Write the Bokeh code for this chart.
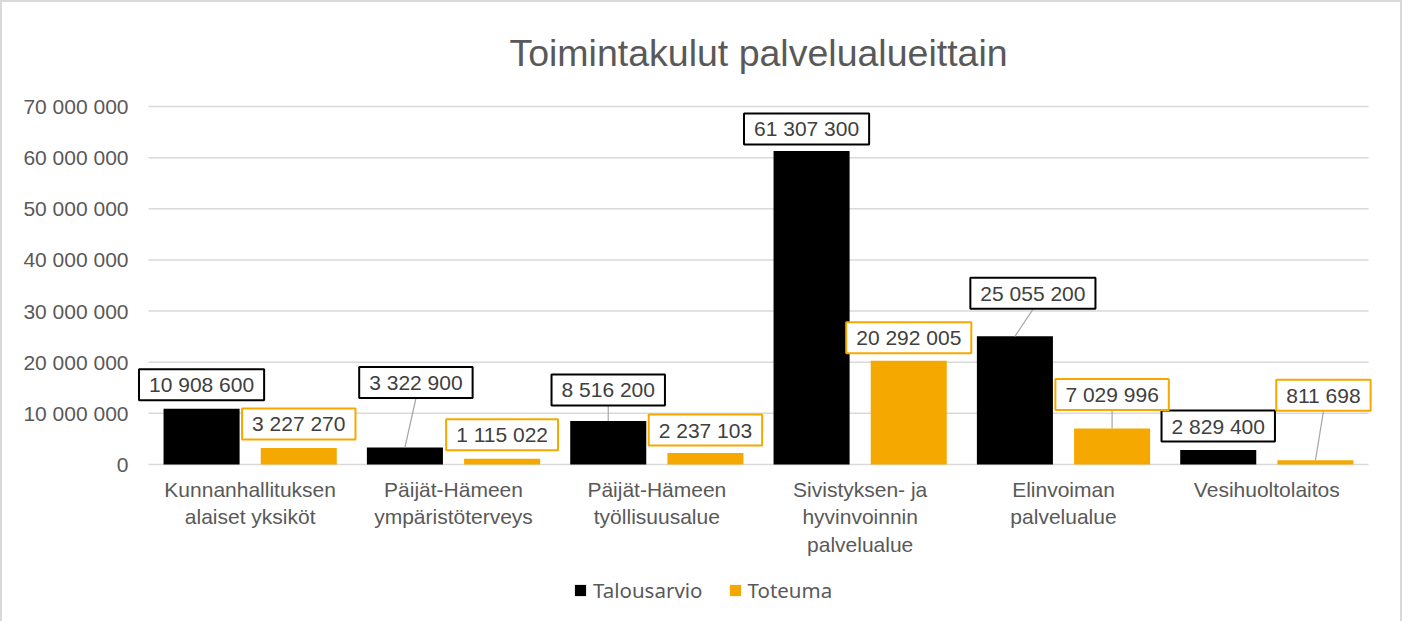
from bokeh.plotting import figure
from bokeh.models import (Range1d, FixedTicker, CustomJSTickFormatter, Label, Legend,
                          LegendItem)
from bokeh.core.properties import value
from bokeh.embed import file_html
from bokeh.resources import INLINE

# ---------------- data ----------------
categories = [
    "Kunnanhallituksen\nalaiset yksiköt",
    "Päijät-Hämeen\nympäristöterveys",
    "Päijät-Hämeen\ntyöllisuusalue",
    "Sivistyksen- ja\nhyvinvoinnin\npalvelualue",
    "Elinvoiman\npalvelualue",
    "Vesihuoltolaitos",
]
talousarvio = [10908600, 3322900, 8516200, 61307300, 25055200, 2829400]
toteuma = [3227270, 1115022, 2237103, 20292005, 7029996, 811698]
y_ticks = [0, 10000000, 20000000, 30000000, 40000000, 50000000, 60000000, 70000000]
series_names = ["Talousarvio", "Toteuma"]

# ---------------- label placement (pixels) ----------------
ta_label_up = [24, 65, 31, 22, 43, 24]
ta_label_dx = [0, 11, 0, -5, 18, 0]
ta_leader = [False, True, True, False, True, False]
to_label_up = [24, 24, 23, 23, 34, 65]
to_label_dx = [0, 0, 0, 0, 0, 8]
to_leader = [False, False, False, False, True, True]

# ---------------- style ----------------
BLACK = "#000000"
ORANGE = "#F5A900"
GRID = "#D9D9D9"
TXT = "#595959"
LBL = "#404040"
FONT = "Liberation Sans"

n = len(categories)
YMAX = 70000000
PLOT_W, PLOT_H = 1220, 358      # pixel size of the 0..n x 0..YMAX area
PAD_X, PAD_TOP, PAD_BOT = 12, 6, 157   # extra frame room (labels, category names, legend)
xpp = n / PLOT_W
ypp = YMAX / PLOT_H
ML, MT = 146 - PAD_X, 104 - PAD_TOP

p = figure(
    frame_width=PLOT_W + 2 * PAD_X, frame_height=PLOT_H + PAD_TOP + PAD_BOT,
    x_range=Range1d(-PAD_X * xpp, n + PAD_X * xpp),
    y_range=Range1d(-PAD_BOT * ypp, YMAX + PAD_TOP * ypp),
    x_axis_location=None,
    output_backend="svg", toolbar_location=None,
    min_border_left=ML, min_border_right=20, min_border_top=MT, min_border_bottom=0,
)
p.styles = {"border-left": "2px solid #D9D9D9", "border-top": "2px solid #D9D9D9",
            "border-right": "2px solid #D9D9D9"}
p.outline_line_color = None
p.background_fill_color = "white"
p.border_fill_color = "white"

p.title.text = "Toimintakulut palvelualueittain"
p.title.align = "center"
p.title.text_font = FONT
p.title.text_font_size = "37.5px"
p.title.text_font_style = "normal"
p.title.text_color = TXT
p.title.standoff = 54

# gridlines (value axis) across the category span
p.segment(x0=[0] * len(y_ticks), y0=y_ticks, x1=[n] * len(y_ticks), y1=y_ticks,
          line_color=GRID, line_width=1.5)

BW = 0.374
OFF = 0.239
xc = [i + 0.5 for i in range(n)]
x_ta = [x - OFF for x in xc]
x_to = [x + OFF for x in xc]

r1 = p.vbar(x=x_ta, top=talousarvio, width=BW, fill_color=BLACK, line_color=None)
r2 = p.vbar(x=x_to, top=toteuma, width=BW, fill_color=ORANGE, line_color=None)

# category axis labels
p.text(x=xc, y=[-13 * ypp] * n, text=categories, text_align="center",
       text_baseline="top", text_font=value(FONT), text_font_size="21px",
       text_color=TXT, text_line_height=1.2)

# value axis
p.yaxis.ticker = FixedTicker(ticks=y_ticks)
p.yaxis.formatter = CustomJSTickFormatter(
    code="return Math.round(tick).toString().replace(/\\B(?=(\\d{3})+(?!\\d))/g, ' ');")
p.yaxis.axis_line_color = None
p.yaxis.major_tick_line_color = None
p.yaxis.minor_tick_line_color = None
p.yaxis.major_tick_out = 0
p.yaxis.major_tick_in = 0
p.yaxis.major_label_standoff = 20 - PAD_X
p.yaxis.major_label_text_font = FONT
p.yaxis.major_label_text_font_size = "21px"
p.yaxis.major_label_text_color = TXT

p.xgrid.grid_line_color = None
p.ygrid.grid_line_color = None


def fmt(v):
    return f"{v:,}".replace(",", " ")


def add_labels(xs, vals, ups, dxs, leaders, color):
    for x, v, up, dx, lead in zip(xs, vals, ups, dxs, leaders):
        lx = x + dx * xpp
        ly = v + up * ypp
        if lead:
            p.segment(x0=[x], y0=[v], x1=[lx], y1=[ly - 16 * ypp],
                      line_color="#A6A6A6", line_width=1.2)
        p.add_layout(Label(
            x=lx, y=ly, text=fmt(v), text_align="center", text_baseline="middle",
            text_font=FONT, text_font_size="21px", text_color=LBL,
            border_line_color=color, border_line_width=2,
            background_fill_color="white", padding=(10, 4),
        ))


add_labels(x_ta, talousarvio, ta_label_up, ta_label_dx, ta_leader, BLACK)
add_labels(x_to, toteuma, to_label_up, to_label_dx, to_leader, ORANGE)

legend = Legend(
    items=[LegendItem(label=series_names[0], renderers=[r1]),
           LegendItem(label=series_names[1], renderers=[r2])],
    orientation="horizontal", location=(437, 17),
    label_text_font="Noto Sans", label_text_font_size="20.5px", label_text_color=TXT,
    glyph_width=14, glyph_height=14, label_standoff=6, spacing=25,
    border_line_color=None, background_fill_color=None, padding=0, margin=0,
)
p.add_layout(legend, "center")

open("out.html", "w").write(file_html(p, INLINE))
